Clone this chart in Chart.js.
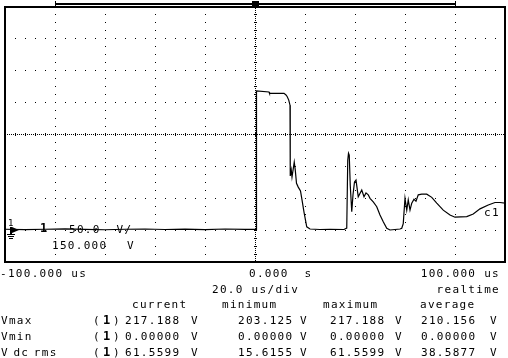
<!DOCTYPE html>
<html><head><meta charset="utf-8">
<script src="https://cdn.jsdelivr.net/npm/chart.js@4"></script>
<style>html,body{margin:0;padding:0;background:#fff;}#wrap{width:508px;height:358px;position:relative;}</style>
</head><body><div id="wrap"><canvas id="c" width="508" height="358"></canvas></div>
<script>
// ---- data (time in microseconds, channel 1 voltage in volts) ----
const timeUs = [-100,-92,-84,-76,-68,-60,-52,-44,-36,-28,-20,-12,-4,0.4,0.6,5.6,5.8,11.6,12.4,12.9,13.5,14.0,14.1,14.5,14.8,15.7,16.1,16.6,17.3,18.2,18.8,19.6,20.7,22.0,26,30,35.6,36.7,37.1,37.4,37.7,38.1,38.7,39.2,39.8,40.4,41.3,42.7,43.6,44.4,45.3,46.0,47.3,48.7,50.0,51.3,52.7,54.0,58.0,58.7,59.3,60.0,60.7,61.3,62.0,62.7,63.6,64.4,65.3,66.7,68.7,70.7,72.7,75.3,78.0,80.0,84.7,87.3,90.0,93.3,96.0,98.0,100];
const volts = [1.2,0.6,1.2,1.8,1.0,0.4,1.2,1.6,0.8,1.4,0.6,1.6,1.0,1.0,217.2,215.6,213.6,213.6,211,208.3,203,195,84.4,93.8,82.8,106,94,73,67,61,47,28,5,1.6,0.8,1.2,0.8,3,109,120,117,70,28.6,55,75,78,52,62.5,52,58,55,49.5,44,36.4,23.4,13,2.7,0,1.6,2.7,10,49.5,31,47,31,42,48,45,55,56,56,51,42,31,23.4,20,21,25,33,39,43,43,42];

const timeRange = [-100, 100];   // us
const timePerDiv = 20;           // us/div
const voltRange = [-50, 350];    // V
const voltsPerDiv = 50;          // V/div
const centerTime = 0;
const offsetVolts = 150;
const windowBar = [-80, 80];

const timeLabels = ['-100.000 us', '0.000  s', '100.000 us'];
const divLabel = '20.0 us/div';
const modeLabel = 'realtime';
const scaleLabel = '50.0  V/';
const offsetLabel = '150.000';
const traceLabel = 'c1';

const statHeaders = ['current', 'minimum', 'maximum', 'average'];
const statNames = ['Vmax', 'Vmin', 'V dc rms'];
const statCurrent = ['217.188', '0.00000', '61.5599'];
const statMinimum = ['203.125', '0.00000', '15.6155'];
const statMaximum = ['217.188', '0.00000', '61.5599'];
const statAverage = ['210.156', '0.00000', '38.5877'];

const FONT = '"DejaVu Sans Mono", "Liberation Mono", monospace';
const PITCH = 7.95;

function txt(ctx, s, x, base, opts) {
  opts = opts || {};
  ctx.font = (opts.bold ? 'bold ' : '') + (opts.size || 11) + 'px ' + FONT;
  ctx.textAlign = opts.align || 'left';
  ctx.textBaseline = 'alphabetic';
  ctx.fillText(s, x, base);
}

const decor = {
  id: 'decor',
  beforeDatasetsDraw(chart) {
    const {ctx, chartArea: a, scales: {x, y}} = chart;
    ctx.save();
    ctx.fillStyle = '#000';
    const cx = Math.round(x.getPixelForValue(centerTime));
    const cy = Math.round(y.getPixelForValue(offsetVolts));
    const top = Math.round(a.top), bot = Math.round(a.bottom);
    const left = Math.round(a.left), right = Math.round(a.right);
    for (let py = top; py < bot; py += 2) ctx.fillRect(cx, py, 1, 1);
    for (let py = top; py < bot; py += 8) ctx.fillRect(cx - 1, py, 3, 1);
    for (let px = left; px < right; px += 2) ctx.fillRect(px, cy, 1, 1);
    for (let px = left; px < right; px += 10) ctx.fillRect(px, cy - 1, 1, 3);
    // frame
    ctx.strokeStyle = '#000';
    ctx.lineWidth = 2;
    ctx.strokeRect(left, top + 1, right - left, bot - top - 1);
    // top window bar
    const b0 = Math.round(x.getPixelForValue(windowBar[0]));
    const b1 = Math.round(x.getPixelForValue(windowBar[1]));
    ctx.fillRect(b0, 3, b1 - b0 + 1, 2);
    ctx.fillRect(b0, 1, 1, 6);
    ctx.fillRect(b1, 1, 1, 6);
    ctx.fillRect(cx - 3, 1, 7, 5);
    ctx.restore();
  },
  afterDatasetsDraw(chart) {
    const {ctx, chartArea: a, scales: {x, y}} = chart;
    ctx.save();
    ctx.fillStyle = '#000';
    ctx.strokeStyle = '#000';
    ctx.letterSpacing = '1.3px';
    const gy = Math.round(y.getPixelForValue(0));
    // ground / channel marker
    txt(ctx, '1', 8, gy - 4, {size: 9});
    ctx.fillRect(10, gy - 3, 2, 8);
    ctx.beginPath();
    ctx.moveTo(12, gy - 3); ctx.lineTo(19, gy); ctx.lineTo(12, gy + 3); ctx.closePath(); ctx.fill();
    ctx.fillRect(7, gy + 4, 8, 1);
    ctx.fillRect(8, gy + 6, 6, 1);
    ctx.fillRect(9, gy + 8, 4, 1);
    txt(ctx, '1', 40, gy + 2, {bold: true, size: 12});
    txt(ctx, scaleLabel, 69, gy + 3);
    txt(ctx, offsetLabel, 52, gy + 19);
    txt(ctx, 'V', 127, gy + 19);
    txt(ctx, traceLabel, 484, y.getPixelForValue(offsetVolts) + 82);

    // time labels
    const base1 = Math.round(a.bottom) + 15;
    txt(ctx, timeLabels[0], x.getPixelForValue(timeRange[0]) - 5, base1);
    txt(ctx, timeLabels[1], x.getPixelForValue(centerTime) - 6, base1);
    txt(ctx, timeLabels[2], x.getPixelForValue(timeRange[1]) - 5, base1, {align: 'right'});
    const base2 = base1 + 16;
    txt(ctx, divLabel, 212, base2);
    txt(ctx, modeLabel, x.getPixelForValue(timeRange[1]) - 5, base2, {align: 'right'});
    const base3 = base2 + 15;
    const hx = [132, 222, 323, 420];
    statHeaders.forEach((h, i) => txt(ctx, h, hx[i], base3));
    const cols = [statCurrent, statMinimum, statMaximum, statAverage];
    const vx = [125, 238, 330, 421];
    const ux = [191, 300, 395, 490];
    statNames.forEach((n, r) => {
      const b = base3 + 16 + r * 16;
      let wx = 1;
      n.split(' ').forEach(w => { txt(ctx, w, wx, b); wx += w.length * PITCH + 4.5; });
      txt(ctx, '(', 93, b);
      txt(ctx, '1', 103, b, {bold: true, size: 12});
      txt(ctx, ')', 113, b);
      cols.forEach((c, k) => { txt(ctx, c[r], vx[k], b); txt(ctx, 'V', ux[k], b); });
    });
    ctx.restore();
  }
};

new Chart(document.getElementById('c'), {
  type: 'line',
  data: {
    datasets: [{
      data: timeUs.map((t, i) => ({x: t, y: volts[i]})),
      borderColor: '#000',
      borderWidth: 1.2,
      pointRadius: 0,
      tension: 0,
      fill: false
    }]
  },
  options: {
    responsive: false,
    animation: false,
    devicePixelRatio: 1,
    layout: {padding: {left: 5, right: 3, top: 6, bottom: 96}},
    plugins: {legend: {display: false}, tooltip: {enabled: false}},
    scales: {
      x: {
        type: 'linear', min: timeRange[0], max: timeRange[1],
        ticks: {display: false, stepSize: timePerDiv},
        grid: {drawTicks: false, color: c => (c.tick && c.tick.value === centerTime) ? 'rgba(0,0,0,0)' : '#000', lineWidth: 1},
        border: {display: false, dash: [1, 7]}
      },
      y: {
        type: 'linear', min: voltRange[0], max: voltRange[1],
        ticks: {display: false, stepSize: voltsPerDiv},
        grid: {drawTicks: false, color: c => (c.tick && c.tick.value === offsetVolts) ? 'rgba(0,0,0,0)' : '#000', lineWidth: 1},
        border: {display: false, dash: [1, 9]}
      }
    }
  },
  plugins: [decor]
});
</script></body></html>
